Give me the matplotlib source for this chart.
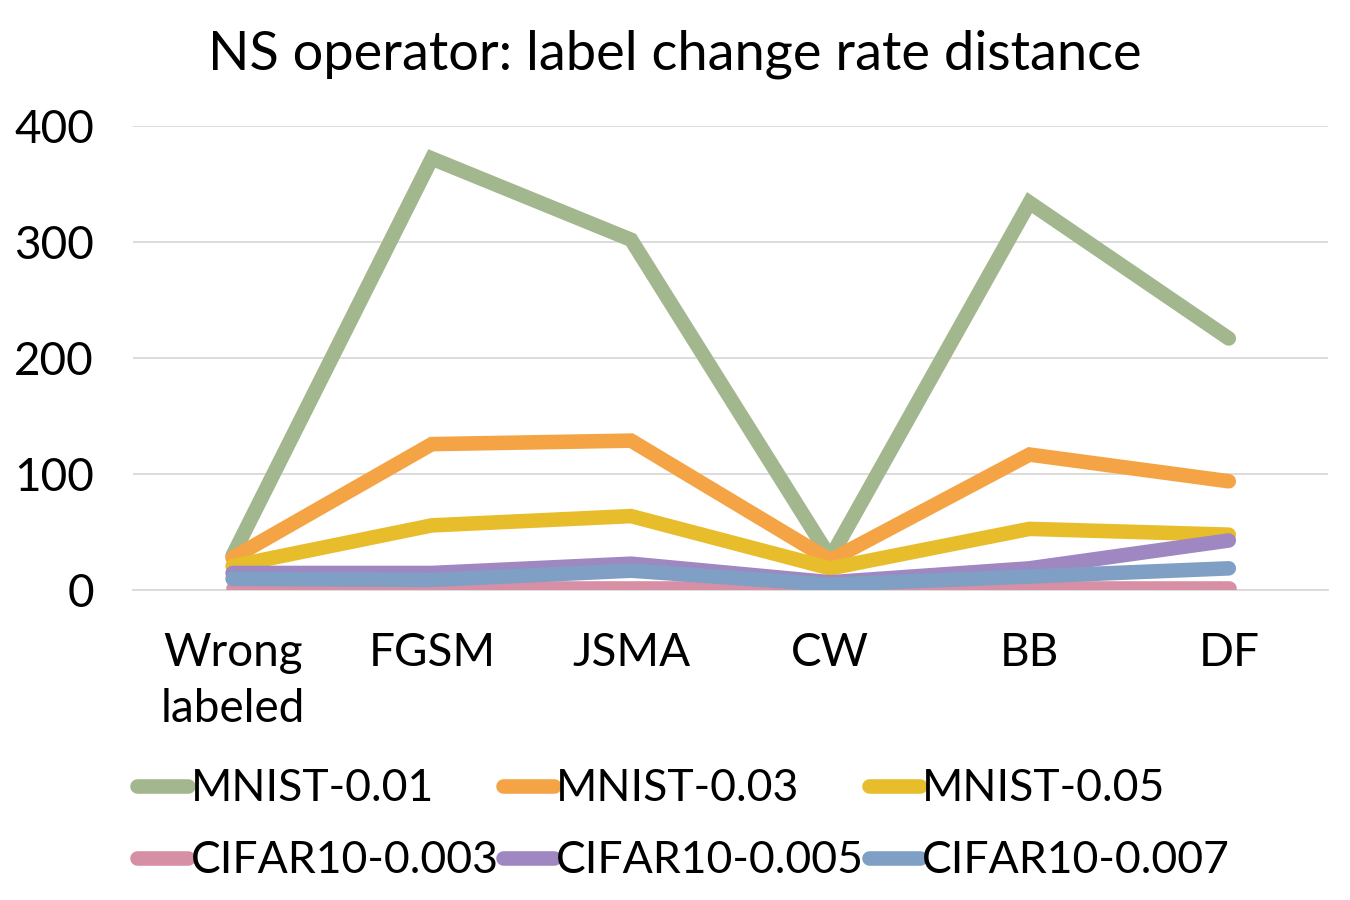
import matplotlib
matplotlib.use("Agg")
import matplotlib.pyplot as plt

plt.rcParams['font.family'] = ['Lato', 'DejaVu Sans']

categories = ["Wrong\nlabeled", "FGSM", "JSMA", "CW", "BB", "DF"]
series_names = ["MNIST-0.01", "MNIST-0.03", "MNIST-0.05",
                "CIFAR10-0.003", "CIFAR10-0.005", "CIFAR10-0.007"]
mnist_001 = [30, 372, 302, 28, 334, 217]
mnist_003 = [28, 126, 129, 26, 117, 94]
mnist_005 = [21, 56, 64, 19, 53, 48]
cifar_0003 = [2, 2, 2, 2, 2, 2]
cifar_0005 = [15, 15, 23, 7, 19, 43]
cifar_0007 = [10, 9, 17, 5, 12, 19]
colors = ["#a3b78f", "#f4a445", "#e8bd2c", "#d68fa5", "#9f87c2", "#7f9fc4"]

data = [mnist_001, mnist_003, mnist_005, cifar_0003, cifar_0005, cifar_0007]

fig = plt.figure(figsize=(13.5, 9), dpi=100)
ax = fig.add_axes([0.0985, 0.344, 0.8855, 0.516])
x = list(range(len(categories)))
handles = []
for vals, name, c in zip(data, series_names, colors):
    h, = ax.plot(x, vals, color=c, lw=10.5, solid_capstyle='round',
                 solid_joinstyle='miter', label=name)
    handles.append(h)

ax.set_xlim(-0.5, 5.5)
ax.set_ylim(0, 400)
ax.set_yticks([0, 100, 200, 300, 400])
ax.set_xticks(x)
ax.set_xticklabels(categories, linespacing=1.4)
ax.tick_params(axis='both', length=0, labelsize=33)
ax.tick_params(axis='x', pad=30)
ax.tick_params(axis='y', pad=28)
ax.grid(axis='y', color='#d9d9d9', lw=1.3)
ax.set_axisbelow(True)
for s in ['top', 'right', 'left']:
    ax.spines[s].set_visible(False)
ax.spines['bottom'].set_color('#d9d9d9')
ax.spines['bottom'].set_linewidth(1.3)
ax.spines['bottom'].set_zorder(0)

fig.text(0.5, 0.94, "NS operator: label change rate distance",
         ha='center', va='center', fontsize=39)

order = [0, 3, 1, 4, 2, 5]
leg = fig.legend([handles[i] for i in order], [series_names[i] for i in order],
                 loc='upper left', bbox_to_anchor=(0.072, 0.191), ncol=3,
                 fontsize=32, frameon=False, handlelength=1.15,
                 handletextpad=0.05, columnspacing=0.1, labelspacing=0.7)
for h in leg.get_lines():
    h.set_linewidth(10.5)
    h.set_solid_capstyle('round')

fig.savefig("out.png", dpi=100)
